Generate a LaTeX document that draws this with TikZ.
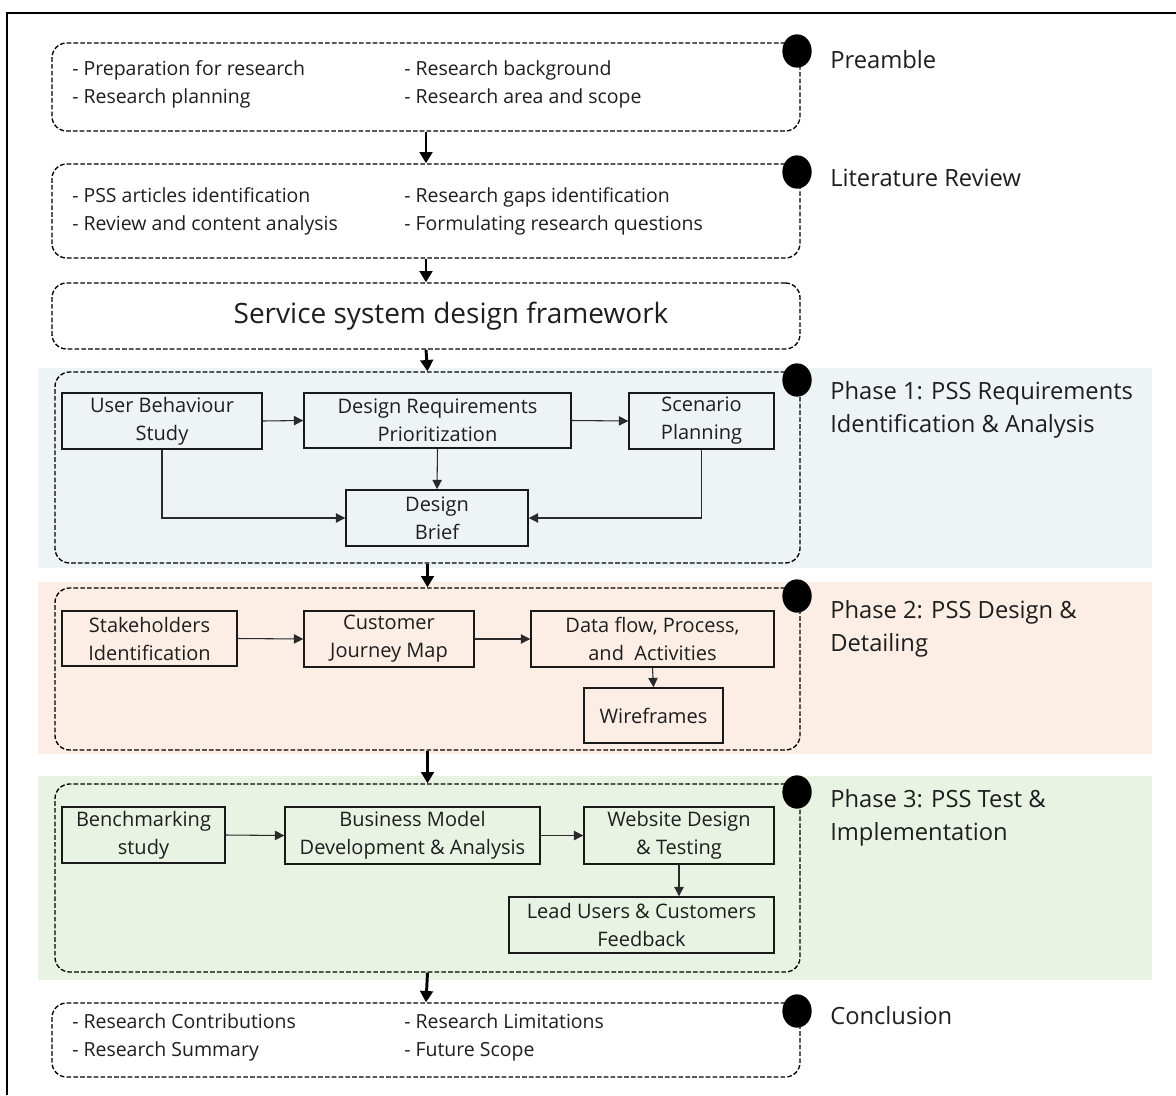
\documentclass[tikz,border=0pt]{standalone}
\usepackage{fontspec}
\setmainfont{Open Sans}
\usetikzlibrary{arrows.meta,fit,shapes.geometric}

\definecolor{phaseblue}{HTML}{EEF3F6}
\definecolor{phasepeach}{HTML}{FCEEE5}
\definecolor{phasegreen}{HTML}{E9F3E3}
\definecolor{inktext}{HTML}{1E1E1E}
\definecolor{inkline}{HTML}{2A2A2A}

\begin{document}
\begin{tikzpicture}[x=0.75pt,y=-0.75pt,
  every node/.style={text=inktext},
  txt/.style={font=\fontsize{14.6}{21}\selectfont, inner sep=0pt, anchor=west, align=left},
  lbl/.style={font=\fontsize{17.8}{24.75}\selectfont, inner sep=0pt, anchor=west, align=left},
  dbox/.style={draw=black, dashed, dash pattern=on 3.5pt off 1.6pt, line width=1pt,
               rounded corners=11pt, inner sep=0pt},
  sbox/.style={draw=black!90, line width=1.1pt, inner sep=0pt, align=center,
               font=\fontsize{15}{21}\selectfont},
  bgpanel/.style={draw=none, inner sep=0pt},
  dot/.style={ellipse, fill=black, draw=none, minimum width=22pt, minimum height=25pt, inner sep=0pt},
  mainflow/.style={draw=black, line width=2.2pt, -{Triangle[width=9.5pt,length=8.5pt]}},
  flow/.style={draw=inkline, line width=0.8pt, -{Triangle[width=7pt,length=7pt]}}
]
\useasboundingbox (0,0) rectangle (1176,1095);
\fill[white] (0,0) rectangle (1176,1095);

% outer frame (open towards the right and bottom edges)
\draw[line width=1.6pt] (1176,13) -- (7,13) -- (7,1095);

% coloured phase panels
\node[bgpanel, fill=phaseblue,  fit={(38,368) (1152,568)}] (bg1) {};
\node[bgpanel, fill=phasepeach, fit={(38,582) (1152,754)}] (bg2) {};
\node[bgpanel, fill=phasegreen, fit={(38,776) (1152,980)}] (bg3) {};

% dashed stage boxes
\node[dbox, fit={(52,43) (800,131)}] (pre) {};
\node[dbox, fit={(52,164) (800,258)}] (lit) {};
\node[dbox, fit={(52,283) (800,349)}] (ssd) {};
\node[font=\fontsize{21}{24}\selectfont, inner sep=0pt] (ssdt) at (451,316) {Service system design framework};
\node[dbox, fit={(55,372) (800,563)}] (ph1) {};
\node[dbox, fit={(55,588) (800,750)}] (ph2) {};
\node[dbox, fit={(55,784) (800,972)}] (ph3) {};
\node[dbox, fit={(52,1003) (800,1077)}] (con) {};

% stage markers
\node[dot] (d1) at (797,51) {};
\node[dot] (d2) at (797,172) {};
\node[dot] (d3) at (797,380) {};
\node[dot] (d4) at (797,596) {};
\node[dot] (d5) at (797,792) {};
\node[dot] (d6) at (797,1011) {};

% stage titles
\node[lbl] (lpre) at (830,60) {Preamble};
\node[lbl] (llit) at (830,178) {Literature Review};
\node[lbl] (lph1) at (830,410) {Phase 1: PSS Requirements\\Identification \& Analysis};
\node[lbl] (lph2) at (830,629) {Phase 2: PSS Design \&\\Detailing};
\node[lbl] (lph3) at (830,818) {Phase 3: PSS Test \&\\Implementation};
\node[lbl] (lcon) at (830,1016) {Conclusion};

% bullet lists
\node[txt] (prea) at (72,84) {- Preparation for research\\- Research planning};
\node[txt] (preb) at (404,84) {- Research background\\- Research area and scope};
\node[txt] (lita) at (72,211) {- PSS articles identification\\- Review and content analysis};
\node[txt] (litb) at (404,211) {- Research gaps identification\\- Formulating research questions};
\node[txt] (cona) at (72,1037) {- Research Contributions\\- Research Summary};
\node[txt] (conb) at (404,1037) {- Research Limitations\\- Future Scope};

% phase 1
\node[sbox, minimum width=150pt, minimum height=42pt] (ubs) at (162,421) {User Behaviour\\Study};
\node[sbox, minimum width=200.25pt, minimum height=41.25pt] (drp) at (437.5,420.5) {Design Requirements\\Prioritization};
\node[sbox, minimum width=108.75pt, minimum height=42pt] (spl) at (701.5,421) {Scenario\\Planning};
\node[sbox, minimum width=136.5pt, minimum height=42pt] (dbr) at (437,518) {Design\\Brief};
\draw[flow] (ubs.east) -- (drp.west);
\draw[flow] (drp.east) -- (spl.west);
\draw[flow] (drp.south) -- (dbr.north);
\draw[flow] (ubs.south) |- (dbr.west);
\draw[flow] (spl.south) |- (dbr.east);

% phase 2
\node[sbox, minimum width=131.25pt, minimum height=41.25pt] (shi) at (149.5,638.5) {Stakeholders\\Identification};
\node[sbox, minimum width=127.5pt, minimum height=42pt] (cjm) at (389,639) {Customer\\Journey Map};
\node[sbox, minimum width=182.25pt, minimum height=42pt] (dfp) at (652.5,639) {Data flow, Process,\\and\ \ Activities};
\node[sbox, minimum width=104.25pt, minimum height=41.25pt] (wfr) at (653.5,715.5) {Wireframes};
\draw[flow] (shi.east) -- (cjm.west);
\draw[flow] (cjm.east) -- (dfp.west);
\draw[flow] (dfp.south) -- (wfr.north);

% phase 3
\node[sbox, minimum width=122.25pt, minimum height=42pt] (bms) at (143.5,835) {Benchmarking\\study};
\node[sbox, minimum width=191.25pt, minimum height=42.75pt] (bmd) at (412.5,835.5) {Business Model\\Development \& Analysis};
\node[sbox, minimum width=142.5pt, minimum height=42.75pt] (wdt) at (679,835.5) {Website Design\\\& Testing};
\node[sbox, minimum width=198.75pt, minimum height=42pt] (luf) at (641.5,925) {Lead Users \& Customers\\Feedback};
\draw[flow] (bms.east) -- (bmd.west);
\draw[flow] (bmd.east) -- (wdt.west);
\draw[flow] (wdt.south) -- (wdt.south |- luf.north);

% main sequence
\draw[mainflow] (pre.south) -- (lit.north);
\draw[mainflow] (lit.south) -- (ssd.north);
\draw[mainflow] (ssd.south) -- (ph1.north);
\draw[mainflow] (ph1.south) -- (ph2.north);
\draw[mainflow] (ph2.south) -- (ph3.north);
\draw[mainflow] (ph3.south) -- (con.north);
\end{tikzpicture}
\end{document}
